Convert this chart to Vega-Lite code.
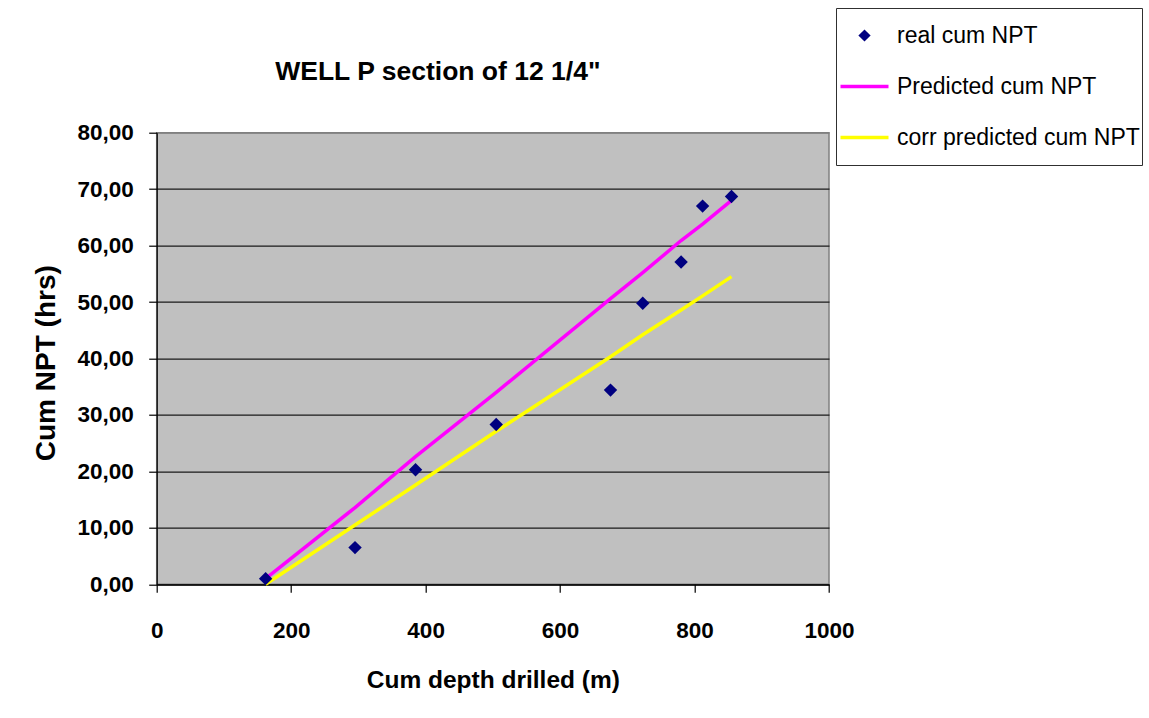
{
  "$schema": "https://vega.github.io/schema/vega-lite/v6.json",
  "autosize": {"type": "none"},
  "padding": {"left": 156.7, "top": 132.7, "right": 320, "bottom": 133.7},
  "width": 672.3,
  "height": 451.6,
  "background": "white",
  "title": {
    "text": "WELL P section of 12 1/4\"",
    "anchor": "middle",
    "frame": "group",
    "dx": -55,
    "dy": 99,
    "offset": 0,
    "baseline": "alphabetic",
    "font": "Liberation Sans",
    "fontSize": 26.5,
    "fontWeight": "bold",
    "color": "black"
  },
  "config": {
    "view": {"fill": "#C0C0C0", "stroke": "#808080", "strokeWidth": 1.5},
    "axis": {
      "domainColor": "black",
      "domainWidth": 1.2,
      "tickColor": "black",
      "tickWidth": 1.2,
      "tickSize": 8,
      "labelFont": "Liberation Sans",
      "labelFontSize": 22.5,
      "labelFontWeight": "bold",
      "labelColor": "black",
      "titleFont": "Liberation Sans",
      "titleFontWeight": "bold",
      "titleColor": "black"
    }
  },
  "data": {
    "values": [
      {"depth": 162, "npt": 1.0, "series": "real cum NPT"},
      {"depth": 295, "npt": 6.5, "series": "real cum NPT"},
      {"depth": 385, "npt": 20.3, "series": "real cum NPT"},
      {"depth": 505, "npt": 28.3, "series": "real cum NPT"},
      {"depth": 675, "npt": 34.4, "series": "real cum NPT"},
      {"depth": 723, "npt": 49.8, "series": "real cum NPT"},
      {"depth": 780, "npt": 57.1, "series": "real cum NPT"},
      {"depth": 812, "npt": 67.0, "series": "real cum NPT"},
      {"depth": 855, "npt": 68.7, "series": "real cum NPT"},
      {"depth": 162, "npt": 1.0, "series": "Predicted cum NPT"},
      {"depth": 295, "npt": 13.6, "series": "Predicted cum NPT"},
      {"depth": 385, "npt": 22.6, "series": "Predicted cum NPT"},
      {"depth": 505, "npt": 34.0, "series": "Predicted cum NPT"},
      {"depth": 675, "npt": 50.6, "series": "Predicted cum NPT"},
      {"depth": 723, "npt": 55.2, "series": "Predicted cum NPT"},
      {"depth": 780, "npt": 60.9, "series": "Predicted cum NPT"},
      {"depth": 812, "npt": 63.8, "series": "Predicted cum NPT"},
      {"depth": 855, "npt": 68.0, "series": "Predicted cum NPT"},
      {"depth": 162, "npt": 0.0, "series": "corr predicted cum NPT"},
      {"depth": 295, "npt": 10.5, "series": "corr predicted cum NPT"},
      {"depth": 385, "npt": 17.6, "series": "corr predicted cum NPT"},
      {"depth": 505, "npt": 27.1, "series": "corr predicted cum NPT"},
      {"depth": 675, "npt": 40.3, "series": "corr predicted cum NPT"},
      {"depth": 723, "npt": 44.2, "series": "corr predicted cum NPT"},
      {"depth": 780, "npt": 48.6, "series": "corr predicted cum NPT"},
      {"depth": 812, "npt": 51.1, "series": "corr predicted cum NPT"},
      {"depth": 855, "npt": 54.5, "series": "corr predicted cum NPT"}
    ]
  },
  "encoding": {
    "x": {
      "field": "depth",
      "type": "quantitative",
      "scale": {"domain": [0, 1000], "nice": false, "zero": true},
      "axis": {
        "title": "Cum depth drilled (m)",
        "titleFontSize": 24.5,
        "titleBaseline": "alphabetic",
        "titleY": 103,
        "values": [0, 200, 400, 600, 800, 1000],
        "format": "d",
        "grid": false,
        "labelBaseline": "alphabetic",
        "labelPadding": 44.7,
        "labelFlush": false
      }
    },
    "y": {
      "field": "npt",
      "type": "quantitative",
      "scale": {"domain": [0, 80], "nice": false},
      "axis": {
        "title": "Cum NPT (hrs)",
        "titleFontSize": 28,
        "titleAngle": -90,
        "titleBaseline": "alphabetic",
        "titleAlign": "center",
        "titleX": -102,
        "titleY": 230,
        "values": [0, 10, 20, 30, 40, 50, 60, 70, 80],
        "labelExpr": "replace(format(datum.value, '.2f'), '.', ',')",
        "labelPadding": 15.4,
        "labelFlush": false,
        "grid": true,
        "gridColor": {"condition": {"test": "datum.value === 80", "value": "#808080"}, "value": "#1a1a1a"},
        "gridWidth": 1.2
      }
    },
    "color": {
      "field": "series",
      "type": "nominal",
      "scale": {
        "domain": ["real cum NPT", "Predicted cum NPT", "corr predicted cum NPT"],
        "range": ["#000080", "#FF00FF", "#FFFF00"]
      },
      "legend": {
        "title": null,
        "orient": "none",
        "legendX": 679.3,
        "legendY": -124.7,
        "padding": 2,
        "clipHeight": 51,
        "rowPadding": 0,
        "symbolSize": 2304,
        "symbolOffset": 15,
        "labelOffset": 21,
        "labelLimit": 400,
        "labelFont": "Liberation Sans",
        "labelFontSize": 23,
        "labelColor": "black",
        "strokeColor": "#303030",
        "fillColor": "white",
        "encode": {
          "symbols": {
            "update": {
              "shape": {"signal": "datum.value === 'real cum NPT' ? 'diamond' : 'stroke'"},
              "size": {"signal": "datum.value === 'real cum NPT' ? 150 : 2304"},
              "fill": {"scale": "color", "field": "value"},
              "stroke": {"scale": "color", "field": "value"},
              "strokeWidth": {"signal": "datum.value === 'real cum NPT' ? 0 : 3.5"},
              "opacity": {"value": 1}
            }
          }
        }
      }
    }
  },
  "layer": [
    {
      "transform": [{"filter": "datum.series !== 'real cum NPT'"}],
      "mark": {"type": "line", "strokeWidth": 3.5},
      "encoding": {}
    },
    {
      "transform": [{"filter": "datum.series === 'real cum NPT'"}],
      "mark": {"type": "point", "shape": "diamond", "filled": true, "size": 180, "opacity": 1},
      "encoding": {}
    }
  ]
}
